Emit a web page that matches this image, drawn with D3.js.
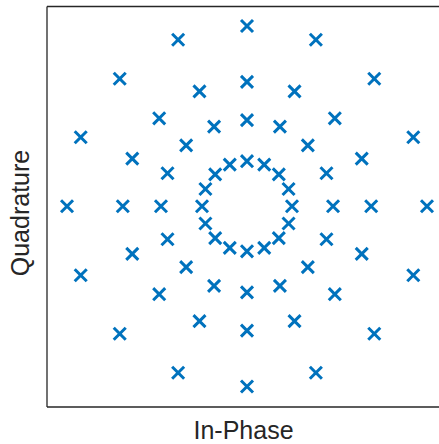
<!DOCTYPE html>
<html>
<head>
<meta charset="utf-8">
<script src="https://cdn.jsdelivr.net/npm/d3@7"></script>
<style>
  body { margin: 0; background: #fff; }
  text { font-family: "Liberation Sans", Arial, sans-serif; fill: #262626; }
</style>
</head>
<body>
<div id="chart"></div>
<script>
// constellation rings (amplitude, normalised to the outer ring) and symbol phases
var ringRadii = [0.25, 0.478, 0.69, 1.0];
var phasesDeg = [0, 22.5, 45, 67.5, 90, 112.5, 135, 157.5,
                 180, 202.5, 225, 247.5, 270, 292.5, 315, 337.5];
var xLabel = 'In-Phase';
var yLabel = 'Quadrature';

var width = 439, height = 444;
var box = { left: 46.5, right: 447.5, top: 6, bottom: 406.5 };

var points = [];
ringRadii.forEach(function(r) {
    phasesDeg.forEach(function(p) {
        var a = p * Math.PI / 180;
        points.push({ i: r * Math.cos(a), q: r * Math.sin(a) });
    });
});

var x = d3.scaleLinear().domain([-1.114, 1.114]).range([box.left, box.right]);
var y = d3.scaleLinear().domain([-1.111, 1.111]).range([box.bottom, box.top]);

var svg = d3.select('#chart')
    .append('svg')
    .attr('width', width)
    .attr('height', height);

// box lines, no ticks (right edge falls outside the window)
function noTicks(axis) { return axis.tickValues([]).tickSizeOuter(0); }
var axes = [
    ['translate(0,' + box.bottom + ')', d3.axisBottom(x)],
    ['translate(0,' + box.top + ')', d3.axisTop(x)],
    ['translate(' + box.left + ',0)', d3.axisLeft(y)],
    ['translate(' + box.right + ',0)', d3.axisRight(y)]
];
axes.forEach(function(a) {
    var g = svg.append('g').attr('transform', a[0]).call(noTicks(a[1]));
    g.select('.domain').attr('stroke', '#262626').attr('stroke-width', 1.3);
});

svg.append('g')
    .selectAll('path')
    .data(points)
    .enter().append('path')
    .attr('transform', function(d) { return 'translate(' + x(d.i) + ',' + y(d.q) + ')'; })
    .attr('d', d3.symbol(d3.symbolTimes, 96))
    .attr('fill', 'none')
    .attr('stroke', '#0072BD')
    .attr('stroke-width', 3);

svg.append('text')
    .attr('x', 243.5)
    .attr('y', 439)
    .attr('text-anchor', 'middle')
    .style('font-size', '25px')
    .text(xLabel);

svg.append('text')
    .attr('transform', 'translate(29,' + 213 + ') rotate(-90)')
    .attr('text-anchor', 'middle')
    .style('font-size', '25px')
    .text(yLabel);
</script>
</body>
</html>
